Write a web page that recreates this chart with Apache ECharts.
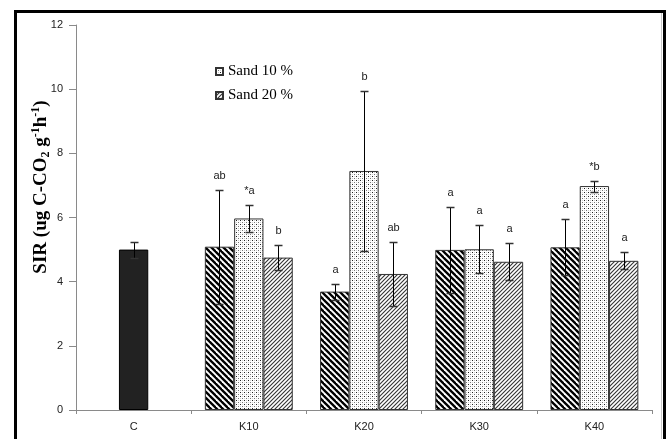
<!DOCTYPE html>
<html>
<head>
<meta charset="utf-8">
<script src="https://cdn.jsdelivr.net/npm/echarts@6/dist/echarts.min.js"></script>
<style>
html,body{margin:0;padding:0;background:#fff;}
#chart{width:668px;height:439px;}
</style>
</head>
<body>
<div id="chart"></div>
<script>
// ---- data ----
const categories = ['C', 'K10', 'K20', 'K30', 'K40'];
const controlMean = [5.0];
const controlErr = [0.25];
const sand0 = [null, 5.09, 3.69, 4.99, 5.07];
const sand0Err = [null, 1.78, 0.25, 1.34, 0.87];
const sand10 = [null, 5.97, 7.45, 5.01, 6.98];
const sand10Err = [null, 0.42, 2.49, 0.75, 0.17];
const sand20 = [null, 4.75, 4.24, 4.62, 4.65];
const sand20Err = [null, 0.39, 1.01, 0.57, 0.26];
const sand0Letters = ['', 'ab', 'a', 'a', 'a'];
const sand10Letters = ['', '*a', 'b', 'a', '*b'];
const sand20Letters = ['', 'b', 'ab', 'a', 'a'];
const yTicks = [0, 2, 4, 6, 8, 10, 12];

// ---- patterns ----
function makePattern(kind) {
  const c = document.createElement('canvas');
  const ctx = c.getContext('2d');
  if (kind === 'back') {
    const s = 6; c.width = s; c.height = s;
    ctx.fillStyle = '#fff'; ctx.fillRect(0, 0, s, s);
    ctx.strokeStyle = '#000'; ctx.lineWidth = 2.3;
    for (let k = -1; k <= 1; k++) {
      ctx.beginPath(); ctx.moveTo(-2, -2 + s * k); ctx.lineTo(s + 2, s + 2 + s * k); ctx.stroke();
    }
  } else if (kind === 'dots') {
    const s = 4; c.width = s; c.height = s;
    ctx.fillStyle = '#fff'; ctx.fillRect(0, 0, s, s);
    ctx.fillStyle = '#222'; ctx.fillRect(0, 0, 1, 1);
    ctx.fillStyle = '#777'; ctx.fillRect(2, 2, 1, 1);
    ctx.fillStyle = '#d0d0d0'; ctx.fillRect(2, 0, 1, 1); ctx.fillRect(0, 2, 1, 1);
  } else {
    const s = 4; c.width = s; c.height = s;
    ctx.fillStyle = '#fff'; ctx.fillRect(0, 0, s, s);
    ctx.strokeStyle = '#333'; ctx.lineWidth = 1.1;
    for (let k = 0; k <= 2; k++) {
      ctx.beginPath(); ctx.moveTo(-2, s * k + 2); ctx.lineTo(s + 2, s * k - s - 2); ctx.stroke();
    }
  }
  return { image: c, repeat: 'repeat' };
}

const BAR_W = 29.3;
const chart = echarts.init(document.getElementById('chart'), null, { renderer: 'canvas' });

// error bar items: [category, slot, mean, err]
const errItems = [];
const errLetters = [];
errItems.push([0, 1, controlMean[0], controlErr[0]]); errLetters.push('');
for (let i = 1; i < categories.length; i++) {
  errItems.push([i, 0, sand0[i], sand0Err[i]]); errLetters.push(sand0Letters[i]);
  errItems.push([i, 1, sand10[i], sand10Err[i]]); errLetters.push(sand10Letters[i]);
  errItems.push([i, 2, sand20[i], sand20Err[i]]); errLetters.push(sand20Letters[i]);
}

const toBar = arr => arr.map(v => (v == null ? '-' : v));
const sand10Data = toBar(sand10);
sand10Data[0] = { value: controlMean[0], itemStyle: { color: '#222', borderColor: '#000' } };

const barBase = {
  type: 'bar', barWidth: BAR_W, barGap: '0%',
  itemStyle: { borderColor: '#333', borderWidth: 1 },
  emphasis: { disabled: true }
};

const option = {
  animation: false,
  backgroundColor: '#fff',
  grid: { left: 76, right: 16, top: 25, bottom: 29, containLabel: false },
  legend: {
    data: ['Sand 10 %', 'Sand 20 %'],
    orient: 'vertical', left: 210, top: 59,
    itemWidth: 7, itemHeight: 7, itemGap: 9, icon: 'rect',
    textStyle: { fontFamily: 'Liberation Serif', fontSize: 15, color: '#000' }
  },
  xAxis: {
    type: 'category', data: categories,
    axisLine: { lineStyle: { color: '#8a8a8a', width: 1 } },
    axisTick: { show: true, length: 4, lineStyle: { color: '#8a8a8a' } },
    axisLabel: { fontFamily: 'Liberation Sans', fontSize: 11, color: '#222', margin: 11 }
  },
  yAxis: {
    type: 'value', min: 0, max: 12, interval: 2,
    axisLine: { show: true, lineStyle: { color: '#8a8a8a', width: 1 } },
    axisTick: { show: true, length: 7, lineStyle: { color: '#8a8a8a' } },
    splitLine: { show: false },
    axisLabel: { fontFamily: 'Liberation Sans', fontSize: 11, color: '#222', margin: 13,
      formatter: v => (yTicks.indexOf(v) >= 0 ? String(v) : '') }
  },
  graphic: [
    { type: 'rect', silent: true, z: 100,
      shape: { x: 15.5, y: 11.5, width: 649, height: 440 },
      style: { fill: 'none', stroke: '#000', lineWidth: 3 } },
    { type: 'line', silent: true, z: 99,
      shape: { x1: 661.5, y1: 13, x2: 661.5, y2: 439 },
      style: { stroke: '#c8c8c8', lineWidth: 1 } },
    { type: 'text', silent: true, x: 41, y: 187, rotation: Math.PI / 2,
      style: {
        text: '{a|SIR (ug C-CO}{sub|2}{a| g}{sup|-1}{a|h}{sup|-1}{a|)}',
        align: 'center', verticalAlign: 'middle',
        rich: {
          a: { fontFamily: 'Liberation Serif', fontWeight: 'bold', fontSize: 19, fill: '#000', lineHeight: 22 },
          sub: { fontFamily: 'Liberation Serif', fontWeight: 'bold', fontSize: 12, fill: '#000', verticalAlign: 'bottom', lineHeight: 22 },
          sup: { fontFamily: 'Liberation Serif', fontWeight: 'bold', fontSize: 12, fill: '#000', verticalAlign: 'top', lineHeight: 22 }
        }
      } }
  ],
  series: [
    Object.assign({}, barBase, { name: 'Sand 0 %', data: toBar(sand0),
      itemStyle: { color: makePattern('back'), borderColor: '#333', borderWidth: 1 } }),
    Object.assign({}, barBase, { name: 'Sand 10 %', data: sand10Data,
      itemStyle: { color: makePattern('dots'), borderColor: '#333', borderWidth: 1 } }),
    Object.assign({}, barBase, { name: 'Sand 20 %', data: toBar(sand20),
      itemStyle: { color: makePattern('fwd'), borderColor: '#333', borderWidth: 1 } }),
    {
      type: 'custom', name: 'errors', z: 10, silent: true,
      encode: { x: 0, y: 2 },
      data: errItems,
      renderItem: function (params, api) {
        const cat = api.value(0), slot = api.value(1), mean = api.value(2), err = api.value(3);
        const c = api.coord([cat, mean]);
        const x = Math.round(c[0] + (slot - 1) * BAR_W) + 0.5;
        const yT = Math.round(api.coord([cat, mean + err])[1]) + 0.5;
        const yB = Math.round(api.coord([cat, mean - err])[1]) + 0.5;
        const st = { stroke: '#000', lineWidth: 1 };
        const capSt = { stroke: '#333', lineWidth: 1.5 };
        const children = [
          { type: 'line', shape: { x1: x, y1: yT, x2: x, y2: yB }, style: st },
          { type: 'line', shape: { x1: x - 4, y1: yT, x2: x + 4, y2: yT }, style: capSt },
          { type: 'line', shape: { x1: x - 4, y1: yB, x2: x + 4, y2: yB }, style: capSt }
        ];
        const txt = errLetters[params.dataIndex];
        if (txt) {
          children.push({ type: 'text', style: { text: txt, x: x, y: yT - 15,
            align: 'center', verticalAlign: 'middle',
            fontFamily: 'Liberation Sans', fontSize: 11, fill: '#222' } });
        }
        return { type: 'group', children: children };
      }
    }
  ]
};
chart.setOption(option);
</script>
</body>
</html>
